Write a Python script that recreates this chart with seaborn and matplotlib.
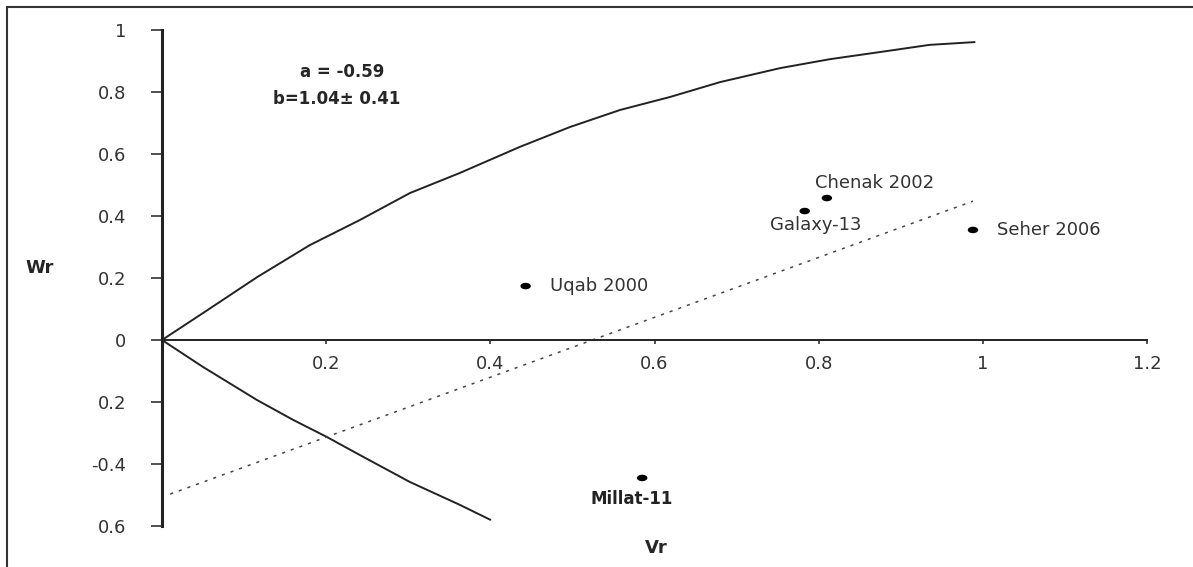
import matplotlib
matplotlib.use("Agg")
import matplotlib.pyplot as plt
from matplotlib.lines import Line2D
from matplotlib.markers import MarkerStyle
from matplotlib.transforms import Affine2D
import pandas as pd
import seaborn as sns

# limiting parabola
upper_vr = [0.0, 0.05, 0.116, 0.18, 0.241, 0.302, 0.363, 0.436, 0.497, 0.558, 0.619, 0.68, 0.753, 0.814, 0.875, 0.935, 0.99]
upper_wr = [0.0, 0.087, 0.203, 0.306, 0.387, 0.474, 0.539, 0.623, 0.687, 0.742, 0.784, 0.832, 0.877, 0.906, 0.929, 0.952, 0.961]
lower_vr = [0.0, 0.05, 0.116, 0.16, 0.201, 0.241, 0.302, 0.363, 0.40]
lower_wr = [0.0, -0.087, -0.194, -0.258, -0.313, -0.371, -0.458, -0.532, -0.58]

# regression line end points
reg_vr = [0.01, 0.988]
reg_wr = [-0.497, 0.448]

# varieties
names = ["Chenak 2002", "Galaxy-13", "Seher 2006", "Uqab 2000", "Millat-11"]
var_vr = [0.81, 0.783, 0.988, 0.443, 0.585]
var_wr = [0.458, 0.416, 0.355, 0.174, -0.445]

yticks = [1, 0.8, 0.6, 0.4, 0.2, 0, -0.2, -0.4, -0.6]
ytick_labels = ["1", "0.8", "0.6", "0.4", "0.2", "0", "0.2", "-0.4", "0.6"]
xticks = [0.2, 0.4, 0.6, 0.8, 1.0, 1.2]
xtick_labels = ["0.2", "0.4", "0.6", "0.8", "1", "1.2"]

sns.set_style("white")
plt.rcParams["font.family"] = ["DejaVu Sans"]

W, H = 1193, 567
fig = plt.figure(figsize=(W / 100, H / 100), dpi=100)
ax = fig.add_axes([162 / W, 1 - 526 / H, 985 / W, 496 / H])

df_up = pd.DataFrame({"Vr": upper_vr, "Wr": upper_wr})
df_lo = pd.DataFrame({"Vr": lower_vr, "Wr": lower_wr})
df_reg = pd.DataFrame({"Vr": reg_vr, "Wr": reg_wr})
df_pts = pd.DataFrame({"Vr": var_vr, "Wr": var_wr, "name": names})

sns.lineplot(data=df_up, x="Vr", y="Wr", sort=False, color="#222222", lw=1.4, ax=ax)
sns.lineplot(data=df_lo, x="Vr", y="Wr", sort=False, color="#222222", lw=1.4, ax=ax)
sns.lineplot(data=df_reg, x="Vr", y="Wr", sort=False, color="#444444", lw=1.1,
             linestyle=(0, (2, 4)), ax=ax)
dot = MarkerStyle("o", transform=Affine2D().scale(1.6, 1.0))
sns.scatterplot(data=df_pts, x="Vr", y="Wr", color="black", s=22, edgecolor="none",
                marker=dot, ax=ax)

# labels for the varieties
lab = dict(fontsize=13, color="#333333", va="center")
ax.text(0.795, 0.506, names[0], ha="left", **lab)
ax.text(0.797, 0.371, names[1], ha="center", **lab)
ax.text(1.017, 0.355, names[2], ha="left", **lab)
ax.text(0.473, 0.174, names[3], ha="left", **lab)
ax.text(0.572, -0.513, names[4], fontsize=12, color="#222222", ha="center", va="center",
        fontweight="bold")

ax.text(0.219, 0.865, "a = -0.59", fontsize=12, fontweight="bold", ha="center", va="center")
ax.text(0.213, 0.777, "b=1.04\u00b1 0.41", fontsize=12, fontweight="bold", ha="center", va="center")

ax.set_xlim(0, 1.2)
ax.set_ylim(-0.6, 1.0)
ax.set_xticks(xticks)
ax.set_xticklabels(xtick_labels)
ax.set_yticks(yticks)
ax.set_yticklabels(ytick_labels)
ax.set_xlabel("")
ax.set_ylabel("")

sns.despine(ax=ax, top=True, right=True)
ax.spines["bottom"].set_position(("data", 0))
ax.spines["bottom"].set_linewidth(1.4)
ax.spines["bottom"].set_color("#222222")
ax.spines["left"].set_linewidth(2.2)
ax.spines["left"].set_color("#222222")

ax.tick_params(axis="y", direction="out", length=8, width=1.2, pad=18, labelsize=13,
               colors="#333333", left=True)
ax.tick_params(axis="x", direction="out", length=3, width=1.2, pad=8, labelsize=13,
               colors="#333333", bottom=True)
ax.patch.set_alpha(0)

fig.text(40 / W, 1 - 268 / H, "Wr", fontsize=13, fontweight="bold", ha="center", va="center")
fig.text(656 / W, 1 - 548 / H, "Vr", fontsize=13, fontweight="bold", ha="center", va="center")

# outer frame
fig.add_artist(Line2D([7 / W, 7 / W], [0, 1 - 7 / H], transform=fig.transFigure, color="#333333", lw=1.5))
fig.add_artist(Line2D([7 / W, 1], [1 - 7 / H, 1 - 7 / H], transform=fig.transFigure, color="#333333", lw=1.5))

fig.savefig("out.png", dpi=100)
